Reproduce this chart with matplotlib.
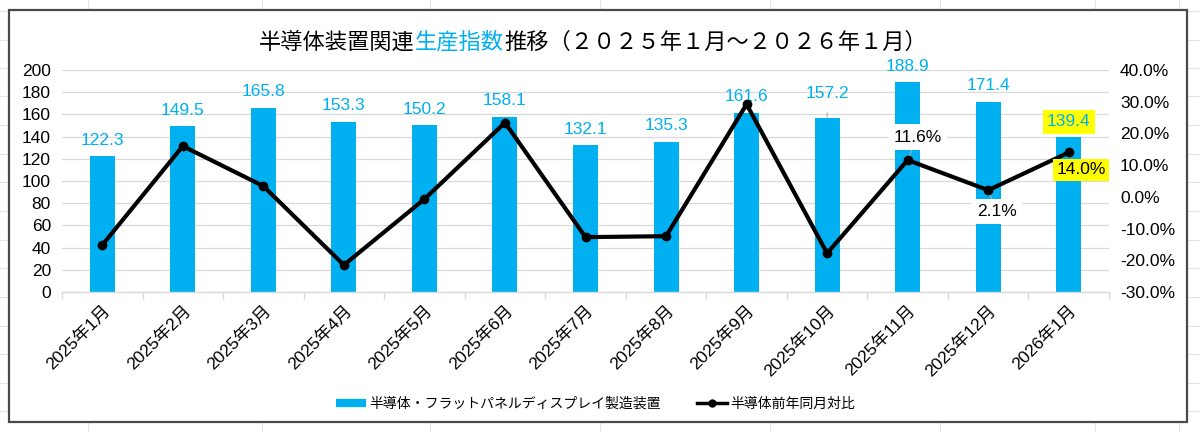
import matplotlib
matplotlib.use('Agg')
import matplotlib.pyplot as plt
from matplotlib.patches import Rectangle
from matplotlib.lines import Line2D
from matplotlib.ticker import FuncFormatter, FixedLocator

# ---------------- data ----------------
months = ['2025年1月', '2025年2月', '2025年3月', '2025年4月', '2025年5月', '2025年6月',
          '2025年7月', '2025年8月', '2025年9月', '2025年10月', '2025年11月', '2025年12月',
          '2026年1月']
production_index = [122.3, 149.5, 165.8, 153.3, 150.2, 158.1, 132.1, 135.3, 161.6,
                    157.2, 188.9, 171.4, 139.4]
yoy_pct = [-15.2, 16.0, 3.4, -21.5, -0.7, 23.4, -12.7, -12.4, 29.2, -17.8, 11.6, 2.1, 14.0]
left_ticks = list(range(0, 201, 20))
right_ticks = list(range(-30, 41, 10))
bar_label = '半導体・フラットパネルディスプレイ製造装置'
line_label = '半導体前年同月対比'
title_parts = ['半導体装置関連', '生産指数', '推移（２０２５年１月～２０２６年１月）']

BLUE = '#00B0F0'
YELLOW = '#FFFF00'
GRID = '#d9d9d9'

plt.rcParams['font.family'] = ['Liberation Sans', 'Noto Sans CJK JP', 'DejaVu Sans']

W, H = 1200, 432
fig = plt.figure(figsize=(12, 4.32), dpi=100)
fig.patch.set_facecolor('white')

# spreadsheet background grid
for y in [11, 39.5, 68, 96, 125, 154, 182, 211, 240, 268, 297, 326, 354, 383, 411]:
    fig.add_artist(Line2D([0, 1], [1 - y / H] * 2, color='#e3e3e3', lw=0.8, zorder=0.1))
for x in [88, 262, 430, 600, 770, 940, 1095, 1179]:
    fig.add_artist(Line2D([x / W] * 2, [0, 1], color='#e3e3e3', lw=0.8, zorder=0.1))

# chart area
fig.add_artist(Rectangle((9 / W, 1 - 422 / H), (1187 - 9) / W, (422 - 10) / H,
                         facecolor='white', edgecolor='#4a4a4a', lw=1.6, zorder=0.5))

ax = fig.add_axes([62 / W, 1 - 292 / H, (1109 - 62) / W, (292 - 70) / H])
ax.set_zorder(2)
ax.patch.set_alpha(0)

x = list(range(len(months)))
bars = ax.bar(x, production_index, width=0.31, color=BLUE, zorder=2)
ax.set_xlim(-0.5, len(months) - 0.5)
ax.set_ylim(0, 200)
ax.yaxis.set_major_locator(FixedLocator(left_ticks))
ax.yaxis.grid(True, color=GRID, lw=0.9)
ax.set_axisbelow(True)
for s in ['top', 'left', 'right']:
    ax.spines[s].set_visible(False)
ax.spines['bottom'].set_color(GRID)
ax.spines['bottom'].set_linewidth(1.0)
ax.tick_params(axis='y', length=0, labelsize=12.5, pad=8, labelcolor='black')
ax.set_xticks(x)
ax.set_xticklabels(months, rotation=45, ha='right', rotation_mode='anchor', fontsize=12.5)
ax.tick_params(axis='x', which='major', length=0, pad=8)
ax.set_xticks([i - 0.5 for i in range(len(months) + 1)], minor=True)
ax.tick_params(axis='x', which='minor', length=5, color=GRID, width=1)

# bar value labels
for i, v in enumerate(production_index):
    if i == 9:
        ax.annotate(f'{v:.1f}', xy=(i, v), xytext=(0, 17), textcoords='offset points',
                    ha='center', va='center', color=BLUE, fontsize=12.5, zorder=5,
                    arrowprops=dict(arrowstyle='-', color='#a6a6a6', lw=0.7,
                                    shrinkA=6, shrinkB=0))
    elif i == len(production_index) - 1:
        ax.annotate(f'{v:.1f}', xy=(i, v), xytext=(0, 11), textcoords='offset points',
                    ha='center', va='center', color=BLUE, fontsize=12.5, zorder=5,
                    bbox=dict(boxstyle='square,pad=0.25', fc=YELLOW, ec='none'))
    else:
        ax.annotate(f'{v:.1f}', xy=(i, v), xytext=(0, 11.5), textcoords='offset points',
                    ha='center', va='center', color=BLUE, fontsize=12.5, zorder=5)

# secondary axis: yoy line
ax2 = ax.twinx()
ax2.set_zorder(3)
ax2.patch.set_alpha(0)
ax2.set_ylim(-30, 40)
ax2.yaxis.set_major_locator(FixedLocator(right_ticks))
ax2.yaxis.set_major_formatter(FuncFormatter(lambda v, p: f'{v:.1f}%'))
ax2.tick_params(axis='y', length=0, labelsize=12.5, pad=8, labelcolor='black')
for s in ax2.spines.values():
    s.set_visible(False)
ax2.plot(x, yoy_pct, color='black', lw=3.0, marker='o', markersize=6, zorder=4)

# line labels for the last three months
ax2.annotate(f'{yoy_pct[10]:.1f}%', xy=(10, yoy_pct[10]), xytext=(7, 16.5),
             textcoords='offset points', ha='center', va='center', fontsize=12.5,
             bbox=dict(boxstyle='square,pad=0.3', fc='white', ec='none'), zorder=3,
             arrowprops=dict(arrowstyle='-', color='#bfbfbf', lw=0.6, shrinkA=0, shrinkB=3))
ax2.annotate(f'{yoy_pct[11]:.1f}%', xy=(11, yoy_pct[11]), xytext=(6, -15.5),
             textcoords='offset points', ha='center', va='center', fontsize=12.5,
             bbox=dict(boxstyle='square,pad=0.3', fc='white', ec='none'), zorder=3,
             arrowprops=dict(arrowstyle='-', color='#bfbfbf', lw=0.6, shrinkA=0, shrinkB=3))
ax2.annotate(f'{yoy_pct[12]:.1f}%', xy=(12, yoy_pct[12]), xytext=(9, -12.5),
             textcoords='offset points', ha='center', va='center', fontsize=12.5,
             bbox=dict(boxstyle='square,pad=0.2', fc=YELLOW, ec='none'), zorder=6)

# title with coloured middle part
renderer = fig.canvas.get_renderer()
colors = ['black', BLUE, 'black']
texts = [fig.text(0, 1 - 42 / H, s, color=c, fontsize=16, ha='left', va='center',
                  family=['Noto Sans CJK JP', 'DejaVu Sans'])
         for s, c in zip(title_parts, colors)]
widths = [t.get_window_extent(renderer).width for t in texts]
x0 = 593 - sum(widths) / 2
for t, w in zip(texts, widths):
    t.set_x(x0 / W)
    x0 += w

# legend
handles = [Line2D([], [], color=BLUE, lw=6, solid_capstyle='butt'),
           Line2D([], [], color='black', lw=2.5, marker='o', markersize=5)]
fig.legend(handles, [bar_label, line_label], loc='center', bbox_to_anchor=(596 / W, 1 - 404 / H),
           ncol=2, frameon=False, handlelength=2.1, handletextpad=0.3,
           columnspacing=2.6, prop={'family': ['Noto Sans CJK JP', 'DejaVu Sans'], 'size': 10})

fig.savefig('out.png', dpi=100)
